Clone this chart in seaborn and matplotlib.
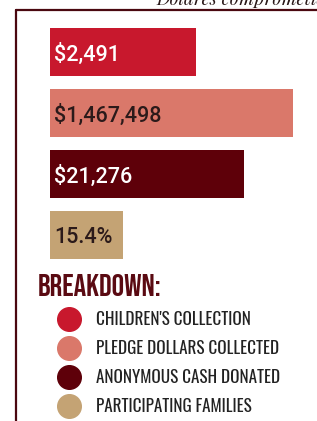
import matplotlib
matplotlib.use("Agg")
import matplotlib.pyplot as plt
from matplotlib.lines import Line2D
import seaborn as sns
import pandas as pd

categories = ["Children's Collection", "Pledge Dollars Collected",
              "Anonymous Cash Donated", "Participating Families"]
value_labels = ["$2,491", "$1,467,498", "$21,276", "15.4%"]
bar_lengths = [60, 100, 80, 30]
legend_labels = ["CHILDREN'S COLLECTION", "PLEDGE DOLLARS COLLECTED",
                 "ANONYMOUS CASH DONATED", "PARTICIPATING FAMILIES"]
bar_colors = ["#C8182D", "#DA786A", "#5E0009", "#C4A374"]
text_colors = ["#FFFFFF", "#2B1A1A", "#FFFFFF", "#2B1A1A"]
legend_title = "BREAKDOWN:"
top_text = "Dólares comprometidos"

sns.set_theme(style="white")
plt.rcParams['font.family'] = ['DejaVu Sans']

W, H = 317, 421
fig = plt.figure(figsize=(W / 100, H / 100), dpi=100)
fig.patch.set_facecolor("white")

df = pd.DataFrame({"cat": categories, "len": bar_lengths})

ax = fig.add_axes([50 / W, 1 - 265.5 / H, 243 / W, 244 / H])
sns.barplot(data=df, x="len", y="cat", hue="cat", palette=bar_colors,
            orient="h", width=0.787, saturation=1, linewidth=0,
            legend=False, ax=ax)
ax.set_xlim(0, 100)
ax.set_ylim(3.5, -0.5)
ax.axis("off")
label_font = ["Roboto", "DejaVu Sans"]
for i, (lab, tc) in enumerate(zip(value_labels, text_colors)):
    ax.text(1.7, i + 0.04, lab, color=tc, fontsize=15.5, fontweight="medium",
            va="center", ha="left", family=label_font)

# frame lines
border = "#4A0810"
fig.add_artist(Line2D([16 / W, 16 / W], [0, 1 - 10 / H], transform=fig.transFigure,
                      color=border, lw=1.6))
fig.add_artist(Line2D([16 / W, 1], [1 - 10 / H, 1 - 10 / H], transform=fig.transFigure,
                      color=border, lw=1.6))

fig.text(157 / W, 1 - 5 / H, top_text, fontsize=13.5, style="italic",
         family=["Playfair Display", "Liberation Serif", "DejaVu Serif"],
         color="#2B1A1A", ha="left", va="baseline")

title_font = ["Bebas Neue", "Antonio", "Oswald", "DejaVu Sans"]
fig.text(38 / W, 1 - 296 / H, legend_title, fontsize=22.5, fontweight="bold",
         family=title_font, color="#5A0A12", ha="left", va="baseline")

narrow = ["Oswald", "Barlow Condensed", "DejaVu Sans"]
handles = [Line2D([], [], marker="o", linestyle="", markersize=17,
                  markerfacecolor=c, markeredgecolor=c) for c in bar_colors]
leg = fig.legend(handles, legend_labels, loc="upper left",
                 bbox_to_anchor=(57.5 / W, 1 - 311 / H),
                 frameon=False, borderpad=0, borderaxespad=0,
                 handlelength=1.4, handletextpad=0.85, labelspacing=0.7,
                 prop={"family": narrow, "size": 12.3})
for t in leg.get_texts():
    t.set_color("#222222")

fig.savefig("out.png", dpi=100)
